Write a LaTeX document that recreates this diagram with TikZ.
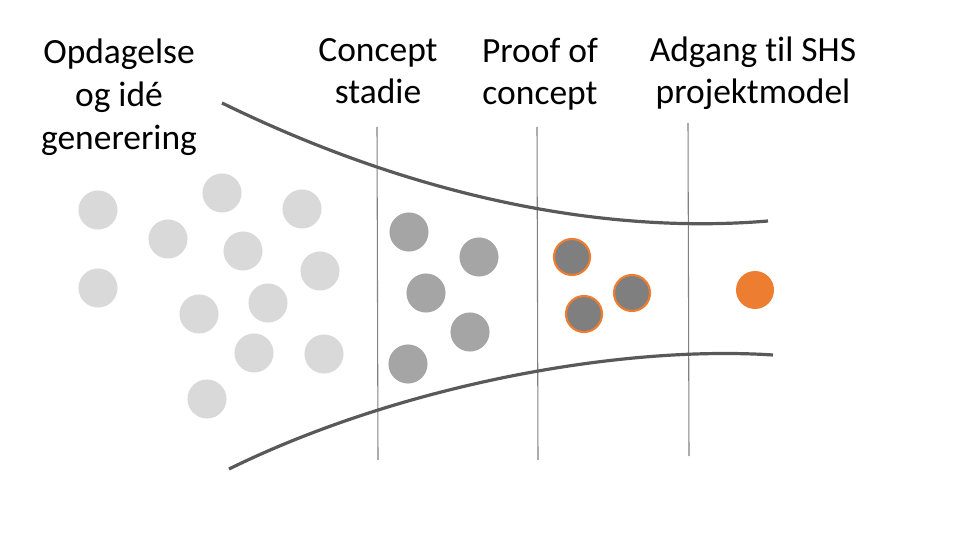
\documentclass[tikz,border=0pt]{standalone}
\usepackage{fontspec}
\setmainfont{Carlito}[Ligatures=NoCommon]
\definecolor{lightdot}{HTML}{D9D9D9}
\definecolor{middot}{HTML}{A5A5A5}
\definecolor{darkdot}{HTML}{7F7F7F}
\definecolor{orangedot}{HTML}{ED7D31}
\definecolor{curvecol}{HTML}{595959}
\definecolor{sepcol}{HTML}{808080}
\begin{document}
\begin{tikzpicture}[x=0.75pt,y=-0.75pt,
  lbl/.style={anchor=base,inner sep=0pt,font=\fontsize{26.6pt}{32pt}\selectfont,text=black},
  dotbase/.style={circle,inner sep=0pt,minimum size=29.3pt},
  lightc/.style={dotbase,fill=lightdot},
  midc/.style={dotbase,fill=middot},
  darkc/.style={dotbase,minimum size=27pt,fill=darkdot,draw=orangedot,line width=1.6pt},
  orangec/.style={dotbase,minimum size=28.5pt,fill=orangedot},
  curve/.style={draw=curvecol,line width=2.4pt},
  sepline/.style={draw=sepcol,line width=0.8pt}]
\useasboundingbox (0,0) rectangle (960,559);
% labels
\node[lbl] (l1a) at (119,64) {Opdagelse};
\node[lbl] (l1b) at (119,107) {og idé};
\node[lbl] (l1c) at (119,150) {generering};
\node[lbl] (l2a) at (378,62) {Concept};
\node[lbl] (l2b) at (378,104) {stadie};
\node[lbl] (l3a) at (540,63) {Proof of};
\node[lbl] (l3b) at (540,105) {concept};
\node[lbl] (l4a) at (753,62) {Adgang til SHS};
\node[lbl] (l4b) at (753,104) {projektmodel};
% separator lines
\coordinate (s1t) at (377,127); \coordinate (s1b) at (378,460);
\coordinate (s2t) at (537,127); \coordinate (s2b) at (538,460);
\coordinate (s3t) at (688,123); \coordinate (s3b) at (689,456);
\draw[sepline] (s1t) -- (s1b);
\draw[sepline] (s2t) -- (s2b);
\draw[sepline] (s3t) -- (s3b);
% funnel curves
\coordinate (ts) at (222,103); \coordinate (te) at (768,221);
\coordinate (bs) at (229,469); \coordinate (be) at (773,355);
\draw[curve] (ts) .. controls (410,195) and (600,235) .. (te);
\draw[curve] (bs) .. controls (400,385) and (620,345) .. (be);
% light dots
\node[lightc] (a1) at (98,210) {};
\node[lightc] (a2) at (222,193) {};
\node[lightc] (a3) at (302,209) {};
\node[lightc] (a4) at (168,239) {};
\node[lightc] (a5) at (243,251) {};
\node[lightc] (a6) at (320,271) {};
\node[lightc] (a7) at (98,288) {};
\node[lightc] (a8) at (199,314) {};
\node[lightc] (a9) at (268,303) {};
\node[lightc] (a10) at (254,353) {};
\node[lightc] (a11) at (324,354) {};
\node[lightc] (a12) at (207,399) {};
% mid dots
\node[midc] (b1) at (409,232) {};
\node[midc] (b2) at (479,257) {};
\node[midc] (b3) at (426,293) {};
\node[midc] (b4) at (470,332) {};
\node[midc] (b5) at (408,364) {};
% dark dots with orange ring
\node[darkc] (c1) at (572,257) {};
\node[darkc] (c2) at (632,293) {};
\node[darkc] (c3) at (584,314) {};
% orange dot
\node[orangec] (d1) at (755,290) {};
\end{tikzpicture}
\end{document}
